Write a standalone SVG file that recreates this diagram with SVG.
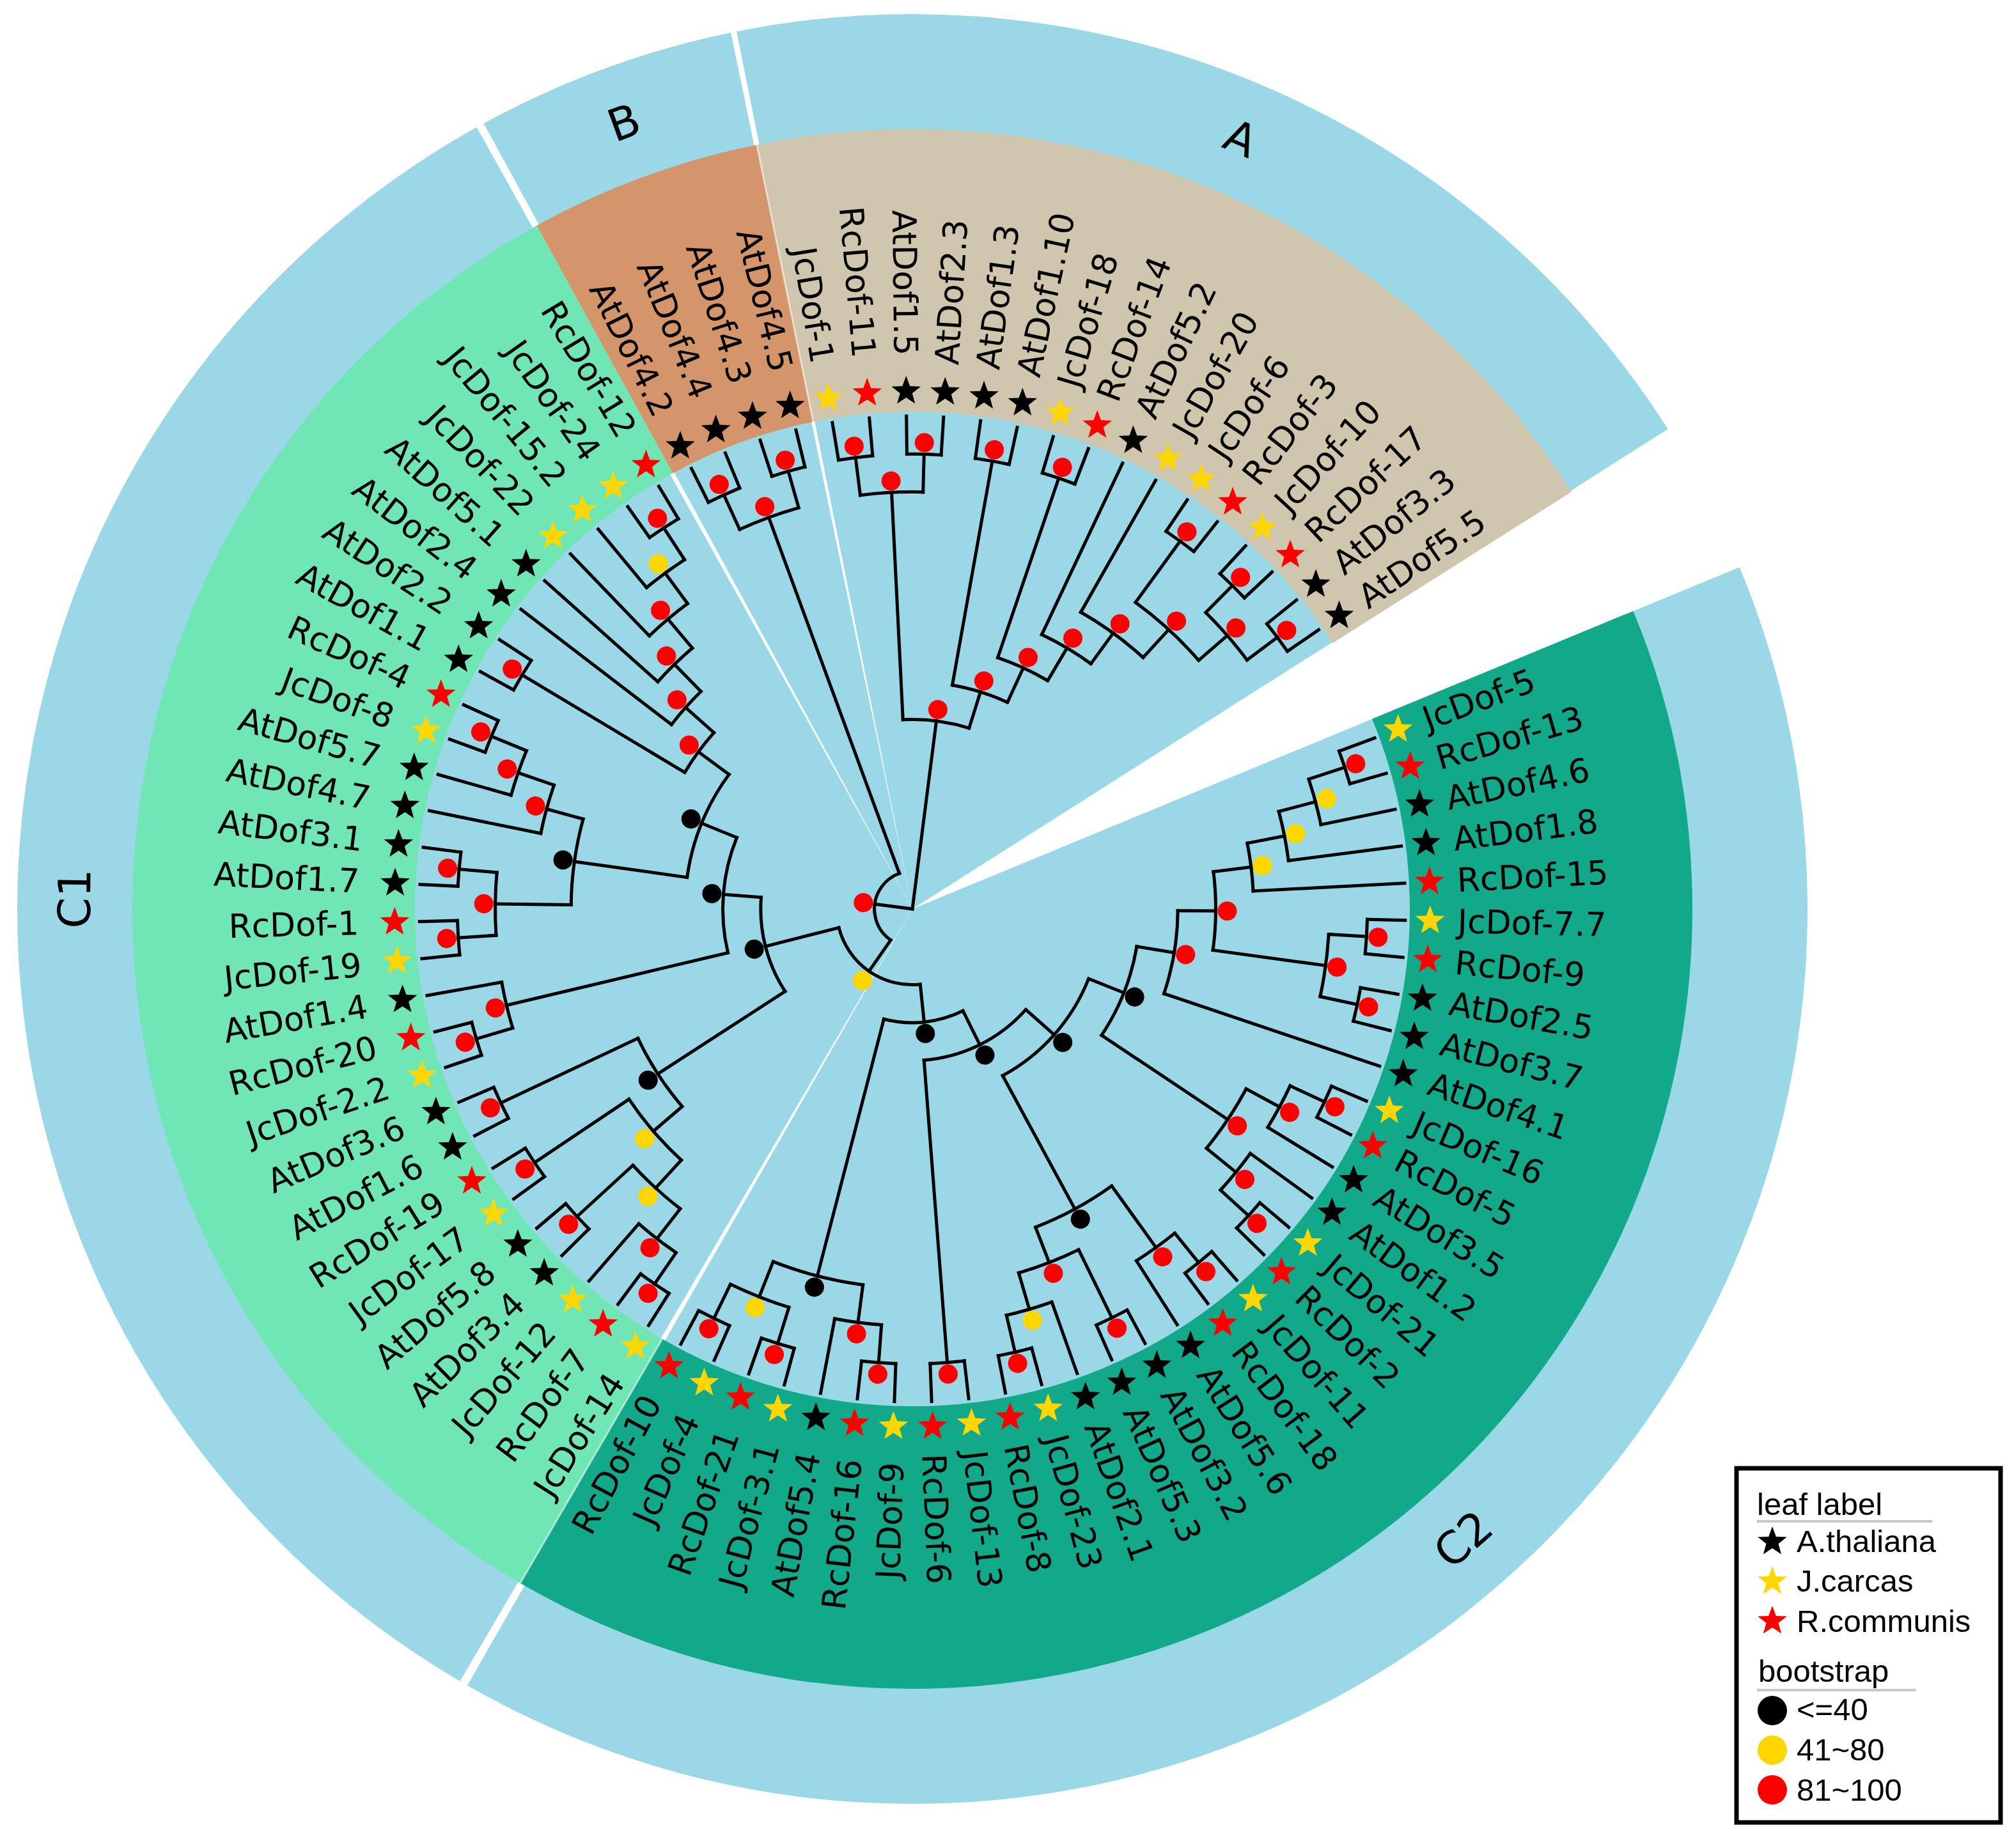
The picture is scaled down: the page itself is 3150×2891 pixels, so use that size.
<svg xmlns="http://www.w3.org/2000/svg" width="3150" height="2891" viewBox="0 0 3150 2891">
<defs>
<style>
.br{stroke:#000;stroke-width:5;fill:none;stroke-linecap:square}
.lab{font-family:'DejaVu Sans',Verdana,sans-serif;font-size:52px;fill:#000;dominant-baseline:central}
.le{text-anchor:end}
.dr{fill:#ff0000}.dy{fill:#ffd700}.dk{fill:#000}
.sk{fill:#000}.sy{fill:#ffd700}.sr{fill:#ff0000}
.cl{font-family:'DejaVu Sans',Verdana,sans-serif;font-size:70px;text-anchor:middle;dominant-baseline:central;fill:#000}
.leg{font-family:'Liberation Sans',Arial,sans-serif;font-size:49px;fill:#000}
.bl{fill:none;stroke:#9ad8e7;stroke-width:1398}
.rg{fill:none;stroke-width:442}
.seam{stroke:#ffffff;stroke-opacity:0.5;stroke-width:3}
</style>
<path id="st" d="M0,-24 L5.88,-8.09 L22.83,-7.42 L9.51,3.09 L14.11,19.42 L0,10 L-14.11,19.42 L-9.51,3.09 L-22.83,-7.42 L-5.88,-8.09 Z"/>
</defs>
<rect width="3150" height="2891" fill="#fff"/>
<g transform="translate(1427 1422)">
<g id="sectors">
<circle class="bl" r="701" stroke-dasharray="1740.54 9999" transform="rotate(-22.46)"/>
<circle class="bl" r="701" stroke-dasharray="1474.38 9999" transform="rotate(120.355)"/>
<circle class="bl" r="701" stroke-dasharray="206.96 9999" transform="rotate(241.385)"/>
<circle class="bl" r="701" stroke-dasharray="842.81 9999" transform="rotate(258.675)"/>
<circle class="rg" r="999" stroke="#12a98b" stroke-dasharray="2487.04 9999" transform="rotate(-22.46)"/>
<circle class="rg" r="999" stroke="#70e6b4" stroke-dasharray="2110.26 9999" transform="rotate(120.18)"/>
<circle class="rg" r="999" stroke="#d4956a" stroke-dasharray="301.46 9999" transform="rotate(241.21)"/>
<circle class="rg" r="999" stroke="#cfc6ad" stroke-dasharray="1205.86 9999" transform="rotate(258.5)"/>
<line class="seam" x1="778" x2="1220" transform="rotate(120.18)"/>
<line class="seam" x1="778" x2="1220" transform="rotate(258.5)"/>
</g>
<g id="clade-labels">
<text class="cl" transform="rotate(293.08) translate(1310) rotate(90)">A</text>
<text class="cl" transform="rotate(249.86) translate(1310) rotate(90)">B</text>
<text class="cl" transform="rotate(180.7) translate(1310) rotate(90)">C1</text>
<text class="cl" transform="rotate(48.86) translate(1310) rotate(-90)">C2</text>
</g>
<g id="connectors">
<circle class="br" r="711.7" stroke-dasharray="53.7 9999" transform="rotate(260.66)"/>
<circle class="br" r="711.7" stroke-dasharray="53.7 9999" transform="rotate(269.31)"/>
<circle class="br" r="711.7" stroke-dasharray="53.7 9999" transform="rotate(277.95)"/>
<circle class="br" r="711.7" stroke-dasharray="53.7 9999" transform="rotate(286.6)"/>
<circle class="br" r="711.7" stroke-dasharray="53.7 9999" transform="rotate(303.89)"/>
<circle class="br" r="711.7" stroke-dasharray="53.7 9999" transform="rotate(312.53)"/>
<circle class="br" r="711.7" stroke-dasharray="53.7 9999" transform="rotate(321.18)"/>
<circle class="br" r="652.4" stroke-dasharray="98.44 9999" transform="rotate(262.825)"/>
<circle class="br" r="652.4" stroke-dasharray="98.44 9999" transform="rotate(314.695)"/>
<circle class="br" r="593.1" stroke-dasharray="134.26 9999" transform="rotate(306.05)"/>
<circle class="br" r="533.8" stroke-dasharray="120.74 9999" transform="rotate(299.57)"/>
<circle class="br" r="474.5" stroke-dasharray="89.52 9999" transform="rotate(295.24)"/>
<circle class="br" r="415.2" stroke-dasharray="86.13 9999" transform="rotate(288.76)"/>
<circle class="br" r="355.8" stroke-dasharray="90.57 9999" transform="rotate(280.115)"/>
<circle class="br" r="296.5" stroke-dasharray="104.84 9999" transform="rotate(267.15)"/>
<circle class="br" r="711.7" stroke-dasharray="53.7 9999" transform="rotate(243.37)"/>
<circle class="br" r="711.7" stroke-dasharray="53.7 9999" transform="rotate(252.02)"/>
<circle class="br" r="652.4" stroke-dasharray="98.44 9999" transform="rotate(245.535)"/>
<circle class="br" r="59.3" stroke-dasharray="129.35 9999" transform="rotate(124.89)"/>
<circle class="br" r="118.6" stroke-dasharray="169.08 9999" transform="rotate(84.05)"/>
<circle class="br" r="711.7" stroke-dasharray="53.7 9999" transform="rotate(234.73)"/>
<circle class="br" r="652.4" stroke-dasharray="73.79 9999" transform="rotate(230.41)"/>
<circle class="br" r="593.1" stroke-dasharray="78.36 9999" transform="rotate(226.08)"/>
<circle class="br" r="533.8" stroke-dasharray="75.51 9999" transform="rotate(221.76)"/>
<circle class="br" r="474.5" stroke-dasharray="69.32 9999" transform="rotate(217.44)"/>
<circle class="br" r="711.7" stroke-dasharray="53.7 9999" transform="rotate(208.79)"/>
<circle class="br" r="415.2" stroke-dasharray="77.32 9999" transform="rotate(210.955)"/>
<circle class="br" r="711.7" stroke-dasharray="53.7 9999" transform="rotate(200.15)"/>
<circle class="br" r="652.4" stroke-dasharray="73.79 9999" transform="rotate(195.83)"/>
<circle class="br" r="593.1" stroke-dasharray="78.36 9999" transform="rotate(191.5)"/>
<circle class="br" r="711.7" stroke-dasharray="53.7 9999" transform="rotate(182.86)"/>
<circle class="br" r="711.7" stroke-dasharray="53.7 9999" transform="rotate(174.21)"/>
<circle class="br" r="652.4" stroke-dasharray="98.44 9999" transform="rotate(176.375)"/>
<circle class="br" r="533.8" stroke-dasharray="135.88 9999" transform="rotate(180.7)"/>
<circle class="br" r="355.8" stroke-dasharray="175.74 9999" transform="rotate(187.99)"/>
<circle class="br" r="711.7" stroke-dasharray="53.7 9999" transform="rotate(161.25)"/>
<circle class="br" r="652.4" stroke-dasharray="73.79 9999" transform="rotate(163.41)"/>
<circle class="br" r="296.5" stroke-dasharray="183.66 9999" transform="rotate(166.65)"/>
<circle class="br" r="711.7" stroke-dasharray="53.7 9999" transform="rotate(122.34)"/>
<circle class="br" r="652.4" stroke-dasharray="73.84 9999" transform="rotate(124.505)"/>
<circle class="br" r="711.7" stroke-dasharray="53.7 9999" transform="rotate(135.31)"/>
<circle class="br" r="593.1" stroke-dasharray="100.62 9999" transform="rotate(127.75)"/>
<circle class="br" r="711.7" stroke-dasharray="53.7 9999" transform="rotate(143.96)"/>
<circle class="br" r="533.8" stroke-dasharray="125.87 9999" transform="rotate(132.61)"/>
<circle class="br" r="711.7" stroke-dasharray="53.7 9999" transform="rotate(152.6)"/>
<circle class="br" r="474.5" stroke-dasharray="127.49 9999" transform="rotate(139.365)"/>
<circle class="br" r="237.2" stroke-dasharray="154.56 9999" transform="rotate(147.06)"/>
<circle class="br" r="711.7" stroke-dasharray="53.7 9999" transform="rotate(-20.3)"/>
<circle class="br" r="652.4" stroke-dasharray="73.79 9999" transform="rotate(-18.14)"/>
<circle class="br" r="593.1" stroke-dasharray="78.36 9999" transform="rotate(-14.9)"/>
<circle class="br" r="533.8" stroke-dasharray="75.51 9999" transform="rotate(-11.115)"/>
<circle class="br" r="711.7" stroke-dasharray="53.7 9999" transform="rotate(1.31)"/>
<circle class="br" r="711.7" stroke-dasharray="53.7 9999" transform="rotate(9.96)"/>
<circle class="br" r="652.4" stroke-dasharray="98.44 9999" transform="rotate(3.475)"/>
<circle class="br" r="474.5" stroke-dasharray="123.06 9999" transform="rotate(-7.06)"/>
<circle class="br" r="415.2" stroke-dasharray="132.11 9999" transform="rotate(0.37)"/>
<circle class="br" r="711.7" stroke-dasharray="53.7 9999" transform="rotate(22.93)"/>
<circle class="br" r="652.4" stroke-dasharray="73.79 9999" transform="rotate(25.09)"/>
<circle class="br" r="711.7" stroke-dasharray="53.7 9999" transform="rotate(40.22)"/>
<circle class="br" r="652.4" stroke-dasharray="73.9 9999" transform="rotate(35.89)"/>
<circle class="br" r="593.1" stroke-dasharray="111.85 9999" transform="rotate(28.33)"/>
<circle class="br" r="355.8" stroke-dasharray="150.56 9999" transform="rotate(9.485)"/>
<circle class="br" r="711.7" stroke-dasharray="53.7 9999" transform="rotate(48.86)"/>
<circle class="br" r="652.4" stroke-dasharray="73.9 9999" transform="rotate(51.02)"/>
<circle class="br" r="711.7" stroke-dasharray="53.7 9999" transform="rotate(61.83)"/>
<circle class="br" r="711.7" stroke-dasharray="53.7 9999" transform="rotate(74.8)"/>
<circle class="br" r="652.4" stroke-dasharray="73.9 9999" transform="rotate(70.47)"/>
<circle class="br" r="593.1" stroke-dasharray="100.67 9999" transform="rotate(63.99)"/>
<circle class="br" r="533.8" stroke-dasharray="135.88 9999" transform="rotate(54.265)"/>
<circle class="br" r="296.5" stroke-dasharray="206.74 9999" transform="rotate(21.61)"/>
<circle class="br" r="711.7" stroke-dasharray="53.7 9999" transform="rotate(83.44)"/>
<circle class="br" r="237.2" stroke-dasharray="182.22 9999" transform="rotate(41.585)"/>
<circle class="br" r="711.7" stroke-dasharray="53.7 9999" transform="rotate(92.09)"/>
<circle class="br" r="652.4" stroke-dasharray="73.79 9999" transform="rotate(94.25)"/>
<circle class="br" r="711.7" stroke-dasharray="53.7 9999" transform="rotate(105.05)"/>
<circle class="br" r="711.7" stroke-dasharray="53.7 9999" transform="rotate(113.7)"/>
<circle class="br" r="652.4" stroke-dasharray="98.44 9999" transform="rotate(107.215)"/>
<circle class="br" r="593.1" stroke-dasharray="145.44 9999" transform="rotate(97.49)"/>
<circle class="br" r="177.9" stroke-dasharray="127.07 9999" transform="rotate(63.59)"/>
<line class="br" x1="652.4" x2="711.7" transform="rotate(262.825)"/>
<line class="br" x1="652.4" x2="711.7" transform="rotate(271.47)"/>
<line class="br" x1="296.5" x2="652.4" transform="rotate(267.15)"/>
<line class="br" x1="296.5" x2="355.8" transform="rotate(287.41)"/>
<line class="br" x1="355.8" x2="711.7" transform="rotate(280.115)"/>
<line class="br" x1="355.8" x2="415.2" transform="rotate(294.7)"/>
<line class="br" x1="415.2" x2="711.7" transform="rotate(288.76)"/>
<line class="br" x1="415.2" x2="474.5" transform="rotate(300.645)"/>
<line class="br" x1="474.5" x2="533.8" transform="rotate(306.05)"/>
<line class="br" x1="533.8" x2="593.1" transform="rotate(312.53)"/>
<line class="br" x1="593.1" x2="711.7" transform="rotate(306.05)"/>
<line class="br" x1="593.1" x2="652.4" transform="rotate(319.02)"/>
<line class="br" x1="652.4" x2="711.7" transform="rotate(314.695)"/>
<line class="br" x1="652.4" x2="711.7" transform="rotate(323.34)"/>
<line class="br" x1="0" x2="296.5" transform="rotate(277.28)"/>
<line class="br" x1="652.4" x2="711.7" transform="rotate(245.535)"/>
<line class="br" x1="652.4" x2="711.7" transform="rotate(254.18)"/>
<line class="br" x1="59.3" x2="652.4" transform="rotate(249.86)"/>
<line class="br" x1="652.4" x2="711.7" transform="rotate(236.89)"/>
<line class="br" x1="593.1" x2="652.4" transform="rotate(233.65)"/>
<line class="br" x1="533.8" x2="593.1" transform="rotate(229.865)"/>
<line class="br" x1="474.5" x2="533.8" transform="rotate(225.81)"/>
<line class="br" x1="415.2" x2="474.5" transform="rotate(221.625)"/>
<line class="br" x1="415.2" x2="711.7" transform="rotate(210.955)"/>
<line class="br" x1="355.8" x2="415.2" transform="rotate(216.29)"/>
<line class="br" x1="652.4" x2="711.7" transform="rotate(202.31)"/>
<line class="br" x1="593.1" x2="652.4" transform="rotate(199.07)"/>
<line class="br" x1="533.8" x2="593.1" transform="rotate(195.285)"/>
<line class="br" x1="652.4" x2="711.7" transform="rotate(185.02)"/>
<line class="br" x1="652.4" x2="711.7" transform="rotate(176.375)"/>
<line class="br" x1="533.8" x2="652.4" transform="rotate(180.7)"/>
<line class="br" x1="355.8" x2="533.8" transform="rotate(187.99)"/>
<line class="br" x1="296.5" x2="355.8" transform="rotate(202.14)"/>
<line class="br" x1="652.4" x2="711.7" transform="rotate(163.41)"/>
<line class="br" x1="296.5" x2="652.4" transform="rotate(166.65)"/>
<line class="br" x1="237.2" x2="296.5" transform="rotate(184.395)"/>
<line class="br" x1="652.4" x2="711.7" transform="rotate(124.505)"/>
<line class="br" x1="593.1" x2="652.4" transform="rotate(127.75)"/>
<line class="br" x1="593.1" x2="711.7" transform="rotate(137.47)"/>
<line class="br" x1="533.8" x2="593.1" transform="rotate(132.61)"/>
<line class="br" x1="533.8" x2="711.7" transform="rotate(146.12)"/>
<line class="br" x1="474.5" x2="533.8" transform="rotate(139.365)"/>
<line class="br" x1="474.5" x2="711.7" transform="rotate(154.76)"/>
<line class="br" x1="237.2" x2="474.5" transform="rotate(147.06)"/>
<line class="br" x1="118.6" x2="237.2" transform="rotate(165.73)"/>
<line class="br" x1="652.4" x2="711.7" transform="rotate(-18.14)"/>
<line class="br" x1="593.1" x2="652.4" transform="rotate(-14.9)"/>
<line class="br" x1="533.8" x2="593.1" transform="rotate(-11.115)"/>
<line class="br" x1="474.5" x2="533.8" transform="rotate(-7.06)"/>
<line class="br" x1="652.4" x2="711.7" transform="rotate(3.475)"/>
<line class="br" x1="652.4" x2="711.7" transform="rotate(12.12)"/>
<line class="br" x1="474.5" x2="652.4" transform="rotate(7.8)"/>
<line class="br" x1="415.2" x2="474.5" transform="rotate(0.37)"/>
<line class="br" x1="355.8" x2="415.2" transform="rotate(9.485)"/>
<line class="br" x1="652.4" x2="711.7" transform="rotate(25.09)"/>
<line class="br" x1="593.1" x2="652.4" transform="rotate(28.33)"/>
<line class="br" x1="652.4" x2="711.7" transform="rotate(42.38)"/>
<line class="br" x1="593.1" x2="652.4" transform="rotate(39.135)"/>
<line class="br" x1="355.8" x2="593.1" transform="rotate(33.73)"/>
<line class="br" x1="296.5" x2="355.8" transform="rotate(21.61)"/>
<line class="br" x1="652.4" x2="711.7" transform="rotate(51.02)"/>
<line class="br" x1="533.8" x2="652.4" transform="rotate(54.265)"/>
<line class="br" x1="593.1" x2="711.7" transform="rotate(63.99)"/>
<line class="br" x1="652.4" x2="711.7" transform="rotate(76.96)"/>
<line class="br" x1="593.1" x2="652.4" transform="rotate(73.715)"/>
<line class="br" x1="533.8" x2="593.1" transform="rotate(68.85)"/>
<line class="br" x1="296.5" x2="533.8" transform="rotate(61.56)"/>
<line class="br" x1="237.2" x2="296.5" transform="rotate(41.585)"/>
<line class="br" x1="237.2" x2="711.7" transform="rotate(85.6)"/>
<line class="br" x1="177.9" x2="237.2" transform="rotate(63.59)"/>
<line class="br" x1="652.4" x2="711.7" transform="rotate(94.25)"/>
<line class="br" x1="593.1" x2="652.4" transform="rotate(97.49)"/>
<line class="br" x1="652.4" x2="711.7" transform="rotate(107.215)"/>
<line class="br" x1="652.4" x2="711.7" transform="rotate(115.86)"/>
<line class="br" x1="593.1" x2="652.4" transform="rotate(111.54)"/>
<line class="br" x1="177.9" x2="593.1" transform="rotate(104.515)"/>
<line class="br" x1="118.6" x2="177.9" transform="rotate(84.05)"/>
<line class="br" x1="59.3" x2="118.6" transform="rotate(124.89)"/>
<line class="br" x1="0" x2="59.3" transform="rotate(187.375)"/>
<line class="br" x1="711.7" x2="771" transform="rotate(-20.3)"/>
<line class="br" x1="711.7" x2="771" transform="rotate(-15.98)"/>
<line class="br" x1="652.4" x2="771" transform="rotate(-11.66)"/>
<line class="br" x1="593.1" x2="771" transform="rotate(-7.33)"/>
<line class="br" x1="533.8" x2="771" transform="rotate(-3.01)"/>
<line class="br" x1="711.7" x2="771" transform="rotate(1.31)"/>
<line class="br" x1="711.7" x2="771" transform="rotate(5.64)"/>
<line class="br" x1="711.7" x2="771" transform="rotate(9.96)"/>
<line class="br" x1="711.7" x2="771" transform="rotate(14.28)"/>
<line class="br" x1="415.2" x2="771" transform="rotate(18.6)"/>
<line class="br" x1="711.7" x2="771" transform="rotate(22.93)"/>
<line class="br" x1="711.7" x2="771" transform="rotate(27.25)"/>
<line class="br" x1="652.4" x2="771" transform="rotate(31.57)"/>
<line class="br" x1="652.4" x2="771" transform="rotate(35.89)"/>
<line class="br" x1="711.7" x2="771" transform="rotate(40.22)"/>
<line class="br" x1="711.7" x2="771" transform="rotate(44.54)"/>
<line class="br" x1="711.7" x2="771" transform="rotate(48.86)"/>
<line class="br" x1="711.7" x2="771" transform="rotate(53.18)"/>
<line class="br" x1="652.4" x2="771" transform="rotate(57.51)"/>
<line class="br" x1="711.7" x2="771" transform="rotate(61.83)"/>
<line class="br" x1="711.7" x2="771" transform="rotate(66.15)"/>
<line class="br" x1="652.4" x2="771" transform="rotate(70.47)"/>
<line class="br" x1="711.7" x2="771" transform="rotate(74.8)"/>
<line class="br" x1="711.7" x2="771" transform="rotate(79.12)"/>
<line class="br" x1="711.7" x2="771" transform="rotate(83.44)"/>
<line class="br" x1="711.7" x2="771" transform="rotate(87.76)"/>
<line class="br" x1="711.7" x2="771" transform="rotate(92.09)"/>
<line class="br" x1="711.7" x2="771" transform="rotate(96.41)"/>
<line class="br" x1="652.4" x2="771" transform="rotate(100.73)"/>
<line class="br" x1="711.7" x2="771" transform="rotate(105.05)"/>
<line class="br" x1="711.7" x2="771" transform="rotate(109.38)"/>
<line class="br" x1="711.7" x2="771" transform="rotate(113.7)"/>
<line class="br" x1="711.7" x2="771" transform="rotate(118.02)"/>
<line class="br" x1="711.7" x2="771" transform="rotate(122.34)"/>
<line class="br" x1="711.7" x2="771" transform="rotate(126.67)"/>
<line class="br" x1="652.4" x2="771" transform="rotate(130.99)"/>
<line class="br" x1="711.7" x2="771" transform="rotate(135.31)"/>
<line class="br" x1="711.7" x2="771" transform="rotate(139.63)"/>
<line class="br" x1="711.7" x2="771" transform="rotate(143.96)"/>
<line class="br" x1="711.7" x2="771" transform="rotate(148.28)"/>
<line class="br" x1="711.7" x2="771" transform="rotate(152.6)"/>
<line class="br" x1="711.7" x2="771" transform="rotate(156.92)"/>
<line class="br" x1="711.7" x2="771" transform="rotate(161.25)"/>
<line class="br" x1="711.7" x2="771" transform="rotate(165.57)"/>
<line class="br" x1="652.4" x2="771" transform="rotate(169.89)"/>
<line class="br" x1="711.7" x2="771" transform="rotate(174.21)"/>
<line class="br" x1="711.7" x2="771" transform="rotate(178.54)"/>
<line class="br" x1="711.7" x2="771" transform="rotate(182.86)"/>
<line class="br" x1="711.7" x2="771" transform="rotate(187.18)"/>
<line class="br" x1="593.1" x2="771" transform="rotate(191.5)"/>
<line class="br" x1="652.4" x2="771" transform="rotate(195.83)"/>
<line class="br" x1="711.7" x2="771" transform="rotate(200.15)"/>
<line class="br" x1="711.7" x2="771" transform="rotate(204.47)"/>
<line class="br" x1="711.7" x2="771" transform="rotate(208.79)"/>
<line class="br" x1="711.7" x2="771" transform="rotate(213.12)"/>
<line class="br" x1="474.5" x2="771" transform="rotate(217.44)"/>
<line class="br" x1="533.8" x2="771" transform="rotate(221.76)"/>
<line class="br" x1="593.1" x2="771" transform="rotate(226.08)"/>
<line class="br" x1="652.4" x2="771" transform="rotate(230.41)"/>
<line class="br" x1="711.7" x2="771" transform="rotate(234.73)"/>
<line class="br" x1="711.7" x2="771" transform="rotate(239.05)"/>
<line class="br" x1="711.7" x2="771" transform="rotate(243.37)"/>
<line class="br" x1="711.7" x2="771" transform="rotate(247.7)"/>
<line class="br" x1="711.7" x2="771" transform="rotate(252.02)"/>
<line class="br" x1="711.7" x2="771" transform="rotate(256.34)"/>
<line class="br" x1="711.7" x2="771" transform="rotate(260.66)"/>
<line class="br" x1="711.7" x2="771" transform="rotate(264.99)"/>
<line class="br" x1="711.7" x2="771" transform="rotate(269.31)"/>
<line class="br" x1="711.7" x2="771" transform="rotate(273.63)"/>
<line class="br" x1="711.7" x2="771" transform="rotate(277.95)"/>
<line class="br" x1="711.7" x2="771" transform="rotate(282.28)"/>
<line class="br" x1="711.7" x2="771" transform="rotate(286.6)"/>
<line class="br" x1="711.7" x2="771" transform="rotate(290.92)"/>
<line class="br" x1="474.5" x2="771" transform="rotate(295.24)"/>
<line class="br" x1="533.8" x2="771" transform="rotate(299.57)"/>
<line class="br" x1="711.7" x2="771" transform="rotate(303.89)"/>
<line class="br" x1="711.7" x2="771" transform="rotate(308.21)"/>
<line class="br" x1="711.7" x2="771" transform="rotate(312.53)"/>
<line class="br" x1="711.7" x2="771" transform="rotate(316.86)"/>
<line class="br" x1="711.7" x2="771" transform="rotate(321.18)"/>
<line class="br" x1="711.7" x2="771" transform="rotate(325.5)"/>
</g>
<g id="bootstrap">
<circle class="dr" cx="729.7" r="15" transform="rotate(262.825)"/>
<circle class="dr" cx="729.7" r="15" transform="rotate(271.47)"/>
<circle class="dr" cx="729.7" r="15" transform="rotate(280.115)"/>
<circle class="dr" cx="729.7" r="15" transform="rotate(288.76)"/>
<circle class="dr" cx="729.7" r="15" transform="rotate(306.05)"/>
<circle class="dr" cx="729.7" r="15" transform="rotate(314.695)"/>
<circle class="dr" cx="729.7" r="15" transform="rotate(323.34)"/>
<circle class="dr" cx="670.4" r="15" transform="rotate(267.15)"/>
<circle class="dr" cx="670.4" r="15" transform="rotate(319.02)"/>
<circle class="dr" cx="611.1" r="15" transform="rotate(312.53)"/>
<circle class="dr" cx="551.8" r="15" transform="rotate(306.05)"/>
<circle class="dr" cx="492.5" r="15" transform="rotate(300.645)"/>
<circle class="dr" cx="433.2" r="15" transform="rotate(294.7)"/>
<circle class="dr" cx="373.8" r="15" transform="rotate(287.41)"/>
<circle class="dr" cx="314.5" r="15" transform="rotate(277.28)"/>
<circle class="dr" cx="729.7" r="15" transform="rotate(245.535)"/>
<circle class="dr" cx="729.7" r="15" transform="rotate(254.18)"/>
<circle class="dr" cx="670.4" r="15" transform="rotate(249.86)"/>
<circle class="dr" cx="77.3" r="15" transform="rotate(187.375)"/>
<circle class="dy" cx="136.6" r="15" transform="rotate(124.89)"/>
<circle class="dr" cx="729.7" r="15" transform="rotate(236.89)"/>
<circle class="dy" cx="670.4" r="15" transform="rotate(233.65)"/>
<circle class="dr" cx="611.1" r="15" transform="rotate(229.865)"/>
<circle class="dr" cx="551.8" r="15" transform="rotate(225.81)"/>
<circle class="dr" cx="492.5" r="15" transform="rotate(221.625)"/>
<circle class="dr" cx="729.7" r="15" transform="rotate(210.955)"/>
<circle class="dr" cx="433.2" r="15" transform="rotate(216.29)"/>
<circle class="dr" cx="729.7" r="15" transform="rotate(202.31)"/>
<circle class="dr" cx="670.4" r="15" transform="rotate(199.07)"/>
<circle class="dr" cx="611.1" r="15" transform="rotate(195.285)"/>
<circle class="dr" cx="729.7" r="15" transform="rotate(185.02)"/>
<circle class="dr" cx="729.7" r="15" transform="rotate(176.375)"/>
<circle class="dr" cx="670.4" r="15" transform="rotate(180.7)"/>
<circle class="dk" cx="551.8" r="15" transform="rotate(187.99)"/>
<circle class="dk" cx="373.8" r="15" transform="rotate(202.14)"/>
<circle class="dr" cx="729.7" r="15" transform="rotate(163.41)"/>
<circle class="dr" cx="670.4" r="15" transform="rotate(166.65)"/>
<circle class="dk" cx="314.5" r="15" transform="rotate(184.395)"/>
<circle class="dr" cx="729.7" r="15" transform="rotate(124.505)"/>
<circle class="dr" cx="670.4" r="15" transform="rotate(127.75)"/>
<circle class="dr" cx="729.7" r="15" transform="rotate(137.47)"/>
<circle class="dy" cx="611.1" r="15" transform="rotate(132.61)"/>
<circle class="dr" cx="729.7" r="15" transform="rotate(146.12)"/>
<circle class="dy" cx="551.8" r="15" transform="rotate(139.365)"/>
<circle class="dr" cx="729.7" r="15" transform="rotate(154.76)"/>
<circle class="dk" cx="492.5" r="15" transform="rotate(147.06)"/>
<circle class="dk" cx="255.2" r="15" transform="rotate(165.73)"/>
<circle class="dr" cx="729.7" r="15" transform="rotate(-18.14)"/>
<circle class="dy" cx="670.4" r="15" transform="rotate(-14.9)"/>
<circle class="dy" cx="611.1" r="15" transform="rotate(-11.115)"/>
<circle class="dy" cx="551.8" r="15" transform="rotate(-7.06)"/>
<circle class="dr" cx="729.7" r="15" transform="rotate(3.475)"/>
<circle class="dr" cx="729.7" r="15" transform="rotate(12.12)"/>
<circle class="dr" cx="670.4" r="15" transform="rotate(7.8)"/>
<circle class="dr" cx="492.5" r="15" transform="rotate(0.37)"/>
<circle class="dr" cx="433.2" r="15" transform="rotate(9.485)"/>
<circle class="dr" cx="729.7" r="15" transform="rotate(25.09)"/>
<circle class="dr" cx="670.4" r="15" transform="rotate(28.33)"/>
<circle class="dr" cx="729.7" r="15" transform="rotate(42.38)"/>
<circle class="dr" cx="670.4" r="15" transform="rotate(39.135)"/>
<circle class="dr" cx="611.1" r="15" transform="rotate(33.73)"/>
<circle class="dk" cx="373.8" r="15" transform="rotate(21.61)"/>
<circle class="dr" cx="729.7" r="15" transform="rotate(51.02)"/>
<circle class="dr" cx="670.4" r="15" transform="rotate(54.265)"/>
<circle class="dr" cx="729.7" r="15" transform="rotate(63.99)"/>
<circle class="dr" cx="729.7" r="15" transform="rotate(76.96)"/>
<circle class="dy" cx="670.4" r="15" transform="rotate(73.715)"/>
<circle class="dr" cx="611.1" r="15" transform="rotate(68.85)"/>
<circle class="dk" cx="551.8" r="15" transform="rotate(61.56)"/>
<circle class="dk" cx="314.5" r="15" transform="rotate(41.585)"/>
<circle class="dr" cx="729.7" r="15" transform="rotate(85.6)"/>
<circle class="dk" cx="255.2" r="15" transform="rotate(63.59)"/>
<circle class="dr" cx="729.7" r="15" transform="rotate(94.25)"/>
<circle class="dr" cx="670.4" r="15" transform="rotate(97.49)"/>
<circle class="dr" cx="729.7" r="15" transform="rotate(107.215)"/>
<circle class="dr" cx="729.7" r="15" transform="rotate(115.86)"/>
<circle class="dy" cx="670.4" r="15" transform="rotate(111.54)"/>
<circle class="dk" cx="611.1" r="15" transform="rotate(104.515)"/>
<circle class="dk" cx="195.9" r="15" transform="rotate(84.05)"/>
</g>
<g id="leaves">
<g id="leaf-JcDof-5" transform="rotate(-20.3)"><use href="#st" class="sy" transform="translate(810) rotate(20.3)"/><text class="lab" x="853">JcDof-5</text></g>
<g id="leaf-RcDof-13" transform="rotate(-15.98)"><use href="#st" class="sr" transform="translate(810) rotate(15.98)"/><text class="lab" x="853">RcDof-13</text></g>
<g id="leaf-AtDof4.6" transform="rotate(-11.66)"><use href="#st" class="sk" transform="translate(810) rotate(11.66)"/><text class="lab" x="853">AtDof4.6</text></g>
<g id="leaf-AtDof1.8" transform="rotate(-7.33)"><use href="#st" class="sk" transform="translate(810) rotate(7.33)"/><text class="lab" x="853">AtDof1.8</text></g>
<g id="leaf-RcDof-15" transform="rotate(-3.01)"><use href="#st" class="sr" transform="translate(810) rotate(3.01)"/><text class="lab" x="853">RcDof-15</text></g>
<g id="leaf-JcDof-7.7" transform="rotate(1.31)"><use href="#st" class="sy" transform="translate(810) rotate(-1.31)"/><text class="lab" x="853">JcDof-7.7</text></g>
<g id="leaf-RcDof-9" transform="rotate(5.64)"><use href="#st" class="sr" transform="translate(810) rotate(-5.64)"/><text class="lab" x="853">RcDof-9</text></g>
<g id="leaf-AtDof2.5" transform="rotate(9.96)"><use href="#st" class="sk" transform="translate(810) rotate(-9.96)"/><text class="lab" x="853">AtDof2.5</text></g>
<g id="leaf-AtDof3.7" transform="rotate(14.28)"><use href="#st" class="sk" transform="translate(810) rotate(-14.28)"/><text class="lab" x="853">AtDof3.7</text></g>
<g id="leaf-AtDof4.1" transform="rotate(18.6)"><use href="#st" class="sk" transform="translate(810) rotate(-18.6)"/><text class="lab" x="853">AtDof4.1</text></g>
<g id="leaf-JcDof-16" transform="rotate(22.93)"><use href="#st" class="sy" transform="translate(810) rotate(-22.93)"/><text class="lab" x="853">JcDof-16</text></g>
<g id="leaf-RcDof-5" transform="rotate(27.25)"><use href="#st" class="sr" transform="translate(810) rotate(-27.25)"/><text class="lab" x="853">RcDof-5</text></g>
<g id="leaf-AtDof3.5" transform="rotate(31.57)"><use href="#st" class="sk" transform="translate(810) rotate(-31.57)"/><text class="lab" x="853">AtDof3.5</text></g>
<g id="leaf-AtDof1.2" transform="rotate(35.89)"><use href="#st" class="sk" transform="translate(810) rotate(-35.89)"/><text class="lab" x="853">AtDof1.2</text></g>
<g id="leaf-JcDof-21" transform="rotate(40.22)"><use href="#st" class="sy" transform="translate(810) rotate(-40.22)"/><text class="lab" x="853">JcDof-21</text></g>
<g id="leaf-RcDof-2" transform="rotate(44.54)"><use href="#st" class="sr" transform="translate(810) rotate(-44.54)"/><text class="lab" x="853">RcDof-2</text></g>
<g id="leaf-JcDof-11" transform="rotate(48.86)"><use href="#st" class="sy" transform="translate(810) rotate(-48.86)"/><text class="lab" x="853">JcDof-11</text></g>
<g id="leaf-RcDof-18" transform="rotate(53.18)"><use href="#st" class="sr" transform="translate(810) rotate(-53.18)"/><text class="lab" x="853">RcDof-18</text></g>
<g id="leaf-AtDof5.6" transform="rotate(57.51)"><use href="#st" class="sk" transform="translate(810) rotate(-57.51)"/><text class="lab" x="853">AtDof5.6</text></g>
<g id="leaf-AtDof3.2" transform="rotate(61.83)"><use href="#st" class="sk" transform="translate(810) rotate(-61.83)"/><text class="lab" x="853">AtDof3.2</text></g>
<g id="leaf-AtDof5.3" transform="rotate(66.15)"><use href="#st" class="sk" transform="translate(810) rotate(-66.15)"/><text class="lab" x="853">AtDof5.3</text></g>
<g id="leaf-AtDof2.1" transform="rotate(70.47)"><use href="#st" class="sk" transform="translate(810) rotate(-70.47)"/><text class="lab" x="853">AtDof2.1</text></g>
<g id="leaf-JcDof-23" transform="rotate(74.8)"><use href="#st" class="sy" transform="translate(810) rotate(-74.8)"/><text class="lab" x="853">JcDof-23</text></g>
<g id="leaf-RcDof-8" transform="rotate(79.12)"><use href="#st" class="sr" transform="translate(810) rotate(-79.12)"/><text class="lab" x="853">RcDof-8</text></g>
<g id="leaf-JcDof-13" transform="rotate(83.44)"><use href="#st" class="sy" transform="translate(810) rotate(-83.44)"/><text class="lab" x="853">JcDof-13</text></g>
<g id="leaf-RcDof-6" transform="rotate(87.76)"><use href="#st" class="sr" transform="translate(810) rotate(-87.76)"/><text class="lab" x="853">RcDof-6</text></g>
<g id="leaf-JcDof-9" transform="rotate(92.09)"><use href="#st" class="sy" transform="translate(810) rotate(-92.09)"/><text class="lab le" transform="rotate(180)" x="-866">JcDof-9</text></g>
<g id="leaf-RcDof-16" transform="rotate(96.41)"><use href="#st" class="sr" transform="translate(810) rotate(-96.41)"/><text class="lab le" transform="rotate(180)" x="-866">RcDof-16</text></g>
<g id="leaf-AtDof5.4" transform="rotate(100.73)"><use href="#st" class="sk" transform="translate(810) rotate(-100.73)"/><text class="lab le" transform="rotate(180)" x="-866">AtDof5.4</text></g>
<g id="leaf-JcDof-3.1" transform="rotate(105.05)"><use href="#st" class="sy" transform="translate(810) rotate(-105.05)"/><text class="lab le" transform="rotate(180)" x="-866">JcDof-3.1</text></g>
<g id="leaf-RcDof-21" transform="rotate(109.38)"><use href="#st" class="sr" transform="translate(810) rotate(-109.38)"/><text class="lab le" transform="rotate(180)" x="-866">RcDof-21</text></g>
<g id="leaf-JcDof-4" transform="rotate(113.7)"><use href="#st" class="sy" transform="translate(810) rotate(-113.7)"/><text class="lab le" transform="rotate(180)" x="-866">JcDof-4</text></g>
<g id="leaf-RcDof-10" transform="rotate(118.02)"><use href="#st" class="sr" transform="translate(810) rotate(-118.02)"/><text class="lab le" transform="rotate(180)" x="-866">RcDof-10</text></g>
<g id="leaf-JcDof-14" transform="rotate(122.34)"><use href="#st" class="sy" transform="translate(810) rotate(-122.34)"/><text class="lab le" transform="rotate(180)" x="-866">JcDof-14</text></g>
<g id="leaf-RcDof-7" transform="rotate(126.67)"><use href="#st" class="sr" transform="translate(810) rotate(-126.67)"/><text class="lab le" transform="rotate(180)" x="-866">RcDof-7</text></g>
<g id="leaf-JcDof-12" transform="rotate(130.99)"><use href="#st" class="sy" transform="translate(810) rotate(-130.99)"/><text class="lab le" transform="rotate(180)" x="-866">JcDof-12</text></g>
<g id="leaf-AtDof3.4" transform="rotate(135.31)"><use href="#st" class="sk" transform="translate(810) rotate(-135.31)"/><text class="lab le" transform="rotate(180)" x="-866">AtDof3.4</text></g>
<g id="leaf-AtDof5.8" transform="rotate(139.63)"><use href="#st" class="sk" transform="translate(810) rotate(-139.63)"/><text class="lab le" transform="rotate(180)" x="-866">AtDof5.8</text></g>
<g id="leaf-JcDof-17" transform="rotate(143.96)"><use href="#st" class="sy" transform="translate(810) rotate(-143.96)"/><text class="lab le" transform="rotate(180)" x="-866">JcDof-17</text></g>
<g id="leaf-RcDof-19" transform="rotate(148.28)"><use href="#st" class="sr" transform="translate(810) rotate(-148.28)"/><text class="lab le" transform="rotate(180)" x="-866">RcDof-19</text></g>
<g id="leaf-AtDof1.6" transform="rotate(152.6)"><use href="#st" class="sk" transform="translate(810) rotate(-152.6)"/><text class="lab le" transform="rotate(180)" x="-866">AtDof1.6</text></g>
<g id="leaf-AtDof3.6" transform="rotate(156.92)"><use href="#st" class="sk" transform="translate(810) rotate(-156.92)"/><text class="lab le" transform="rotate(180)" x="-866">AtDof3.6</text></g>
<g id="leaf-JcDof-2.2" transform="rotate(161.25)"><use href="#st" class="sy" transform="translate(810) rotate(-161.25)"/><text class="lab le" transform="rotate(180)" x="-866">JcDof-2.2</text></g>
<g id="leaf-RcDof-20" transform="rotate(165.57)"><use href="#st" class="sr" transform="translate(810) rotate(-165.57)"/><text class="lab le" transform="rotate(180)" x="-866">RcDof-20</text></g>
<g id="leaf-AtDof1.4" transform="rotate(169.89)"><use href="#st" class="sk" transform="translate(810) rotate(-169.89)"/><text class="lab le" transform="rotate(180)" x="-866">AtDof1.4</text></g>
<g id="leaf-JcDof-19" transform="rotate(174.21)"><use href="#st" class="sy" transform="translate(810) rotate(-174.21)"/><text class="lab le" transform="rotate(180)" x="-866">JcDof-19</text></g>
<g id="leaf-RcDof-1" transform="rotate(178.54)"><use href="#st" class="sr" transform="translate(810) rotate(-178.54)"/><text class="lab le" transform="rotate(180)" x="-866">RcDof-1</text></g>
<g id="leaf-AtDof1.7" transform="rotate(182.86)"><use href="#st" class="sk" transform="translate(810) rotate(-182.86)"/><text class="lab le" transform="rotate(180)" x="-866">AtDof1.7</text></g>
<g id="leaf-AtDof3.1" transform="rotate(187.18)"><use href="#st" class="sk" transform="translate(810) rotate(-187.18)"/><text class="lab le" transform="rotate(180)" x="-866">AtDof3.1</text></g>
<g id="leaf-AtDof4.7" transform="rotate(191.5)"><use href="#st" class="sk" transform="translate(810) rotate(-191.5)"/><text class="lab le" transform="rotate(180)" x="-866">AtDof4.7</text></g>
<g id="leaf-AtDof5.7" transform="rotate(195.83)"><use href="#st" class="sk" transform="translate(810) rotate(-195.83)"/><text class="lab le" transform="rotate(180)" x="-866">AtDof5.7</text></g>
<g id="leaf-JcDof-8" transform="rotate(200.15)"><use href="#st" class="sy" transform="translate(810) rotate(-200.15)"/><text class="lab le" transform="rotate(180)" x="-866">JcDof-8</text></g>
<g id="leaf-RcDof-4" transform="rotate(204.47)"><use href="#st" class="sr" transform="translate(810) rotate(-204.47)"/><text class="lab le" transform="rotate(180)" x="-866">RcDof-4</text></g>
<g id="leaf-AtDof1.1" transform="rotate(208.79)"><use href="#st" class="sk" transform="translate(810) rotate(-208.79)"/><text class="lab le" transform="rotate(180)" x="-866">AtDof1.1</text></g>
<g id="leaf-AtDof2.2" transform="rotate(213.12)"><use href="#st" class="sk" transform="translate(810) rotate(-213.12)"/><text class="lab le" transform="rotate(180)" x="-866">AtDof2.2</text></g>
<g id="leaf-AtDof2.4" transform="rotate(217.44)"><use href="#st" class="sk" transform="translate(810) rotate(-217.44)"/><text class="lab le" transform="rotate(180)" x="-866">AtDof2.4</text></g>
<g id="leaf-AtDof5.1" transform="rotate(221.76)"><use href="#st" class="sk" transform="translate(810) rotate(-221.76)"/><text class="lab le" transform="rotate(180)" x="-866">AtDof5.1</text></g>
<g id="leaf-JcDof-22" transform="rotate(226.08)"><use href="#st" class="sy" transform="translate(810) rotate(-226.08)"/><text class="lab le" transform="rotate(180)" x="-866">JcDof-22</text></g>
<g id="leaf-JcDof-15.2" transform="rotate(230.41)"><use href="#st" class="sy" transform="translate(810) rotate(-230.41)"/><text class="lab le" transform="rotate(180)" x="-866">JcDof-15.2</text></g>
<g id="leaf-JcDof-24" transform="rotate(234.73)"><use href="#st" class="sy" transform="translate(810) rotate(-234.73)"/><text class="lab le" transform="rotate(180)" x="-866">JcDof-24</text></g>
<g id="leaf-RcDof-12" transform="rotate(239.05)"><use href="#st" class="sr" transform="translate(810) rotate(-239.05)"/><text class="lab le" transform="rotate(180)" x="-866">RcDof-12</text></g>
<g id="leaf-AtDof4.2" transform="rotate(243.37)"><use href="#st" class="sk" transform="translate(810) rotate(-243.37)"/><text class="lab le" transform="rotate(180)" x="-866">AtDof4.2</text></g>
<g id="leaf-AtDof4.4" transform="rotate(247.7)"><use href="#st" class="sk" transform="translate(810) rotate(-247.7)"/><text class="lab le" transform="rotate(180)" x="-866">AtDof4.4</text></g>
<g id="leaf-AtDof4.3" transform="rotate(252.02)"><use href="#st" class="sk" transform="translate(810) rotate(-252.02)"/><text class="lab le" transform="rotate(180)" x="-866">AtDof4.3</text></g>
<g id="leaf-AtDof4.5" transform="rotate(256.34)"><use href="#st" class="sk" transform="translate(810) rotate(-256.34)"/><text class="lab le" transform="rotate(180)" x="-866">AtDof4.5</text></g>
<g id="leaf-JcDof-1" transform="rotate(260.66)"><use href="#st" class="sy" transform="translate(810) rotate(-260.66)"/><text class="lab le" transform="rotate(180)" x="-866">JcDof-1</text></g>
<g id="leaf-RcDof-11" transform="rotate(264.99)"><use href="#st" class="sr" transform="translate(810) rotate(-264.99)"/><text class="lab le" transform="rotate(180)" x="-866">RcDof-11</text></g>
<g id="leaf-AtDof1.5" transform="rotate(269.31)"><use href="#st" class="sk" transform="translate(810) rotate(-269.31)"/><text class="lab le" transform="rotate(180)" x="-866">AtDof1.5</text></g>
<g id="leaf-AtDof2.3" transform="rotate(273.63)"><use href="#st" class="sk" transform="translate(810) rotate(-273.63)"/><text class="lab" x="853">AtDof2.3</text></g>
<g id="leaf-AtDof1.3" transform="rotate(277.95)"><use href="#st" class="sk" transform="translate(810) rotate(-277.95)"/><text class="lab" x="853">AtDof1.3</text></g>
<g id="leaf-AtDof1.10" transform="rotate(282.28)"><use href="#st" class="sk" transform="translate(810) rotate(-282.28)"/><text class="lab" x="853">AtDof1.10</text></g>
<g id="leaf-JcDof-18" transform="rotate(286.6)"><use href="#st" class="sy" transform="translate(810) rotate(-286.6)"/><text class="lab" x="853">JcDof-18</text></g>
<g id="leaf-RcDof-14" transform="rotate(290.92)"><use href="#st" class="sr" transform="translate(810) rotate(-290.92)"/><text class="lab" x="853">RcDof-14</text></g>
<g id="leaf-AtDof5.2" transform="rotate(295.24)"><use href="#st" class="sk" transform="translate(810) rotate(-295.24)"/><text class="lab" x="853">AtDof5.2</text></g>
<g id="leaf-JcDof-20" transform="rotate(299.57)"><use href="#st" class="sy" transform="translate(810) rotate(-299.57)"/><text class="lab" x="853">JcDof-20</text></g>
<g id="leaf-JcDof-6" transform="rotate(303.89)"><use href="#st" class="sy" transform="translate(810) rotate(-303.89)"/><text class="lab" x="853">JcDof-6</text></g>
<g id="leaf-RcDof-3" transform="rotate(308.21)"><use href="#st" class="sr" transform="translate(810) rotate(-308.21)"/><text class="lab" x="853">RcDof-3</text></g>
<g id="leaf-JcDof-10" transform="rotate(312.53)"><use href="#st" class="sy" transform="translate(810) rotate(-312.53)"/><text class="lab" x="853">JcDof-10</text></g>
<g id="leaf-RcDof-17" transform="rotate(316.86)"><use href="#st" class="sr" transform="translate(810) rotate(-316.86)"/><text class="lab" x="853">RcDof-17</text></g>
<g id="leaf-AtDof3.3" transform="rotate(321.18)"><use href="#st" class="sk" transform="translate(810) rotate(-321.18)"/><text class="lab" x="853">AtDof3.3</text></g>
<g id="leaf-AtDof5.5" transform="rotate(325.5)"><use href="#st" class="sk" transform="translate(810) rotate(-325.5)"/><text class="lab" x="853">AtDof5.5</text></g>
</g>
</g>
<g id="legend">
<rect x="2716" y="2297" width="413" height="554" fill="#fff" stroke="#000" stroke-width="7"/>
<text class="leg" x="2748" y="2370">leaf label</text>
<line x1="2748" y1="2380" x2="3022" y2="2380" stroke="#c8c8c8" stroke-width="4"/>
<use href="#st" class="sk" transform="translate(2772 2412)"/>
<text class="leg" x="2810" y="2428">A.thaliana</text>
<use href="#st" class="sy" transform="translate(2772 2474)"/>
<text class="leg" x="2810" y="2490">J.carcas</text>
<use href="#st" class="sr" transform="translate(2772 2536)"/>
<text class="leg" x="2810" y="2553">R.communis</text>
<text class="leg" x="2750" y="2631">bootstrap</text>
<line x1="2748" y1="2644" x2="2996" y2="2644" stroke="#c8c8c8" stroke-width="4"/>
<circle cx="2772" cy="2676" r="23" fill="#000"/>
<text class="leg" x="2810" y="2691">&lt;=40</text>
<circle cx="2772" cy="2738" r="23" fill="#ffd700"/>
<text class="leg" x="2810" y="2754">41~80</text>
<circle cx="2772" cy="2800" r="23" fill="#ff0000"/>
<text class="leg" x="2810" y="2817">81~100</text>
</g>
</svg>
